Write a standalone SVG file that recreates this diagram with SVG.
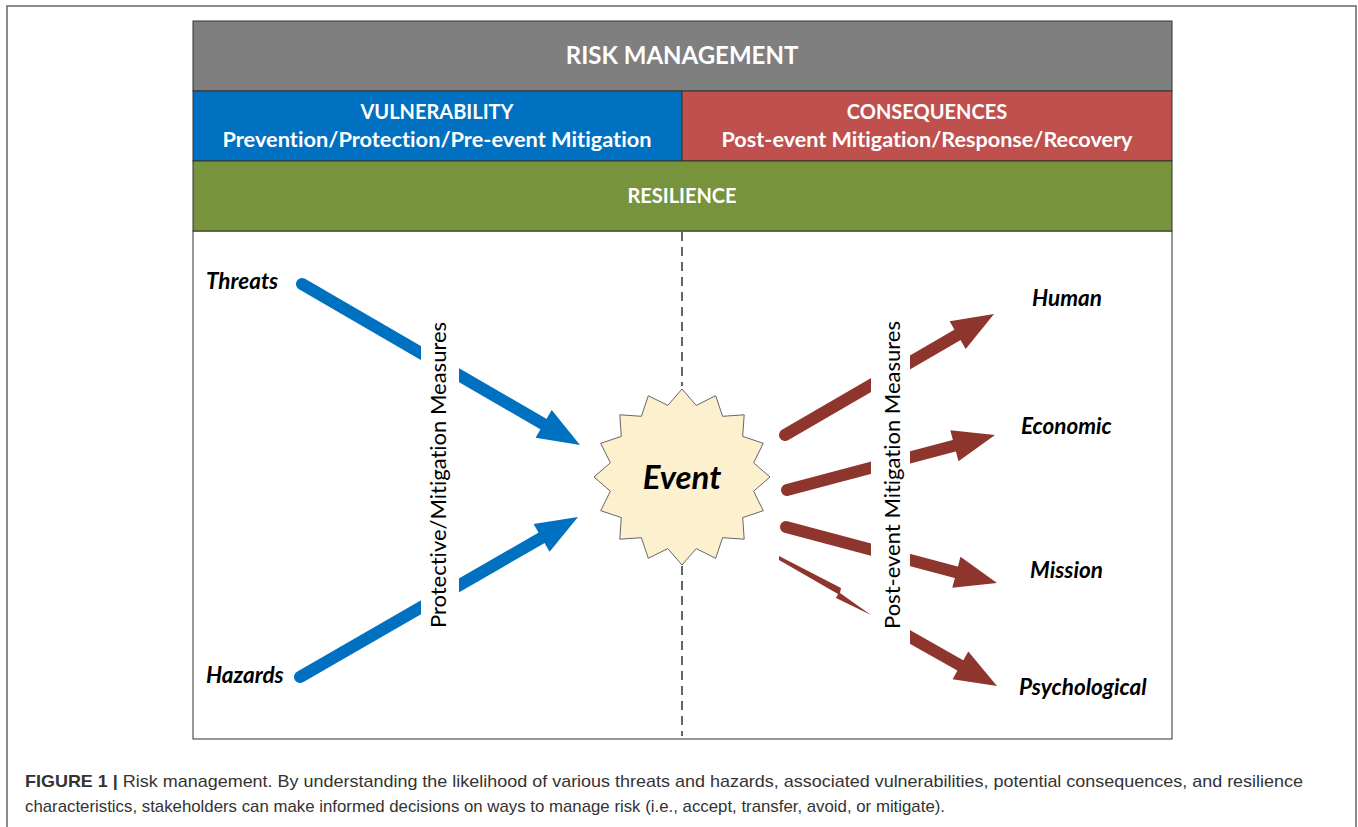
<svg xmlns="http://www.w3.org/2000/svg" width="1358" height="827" viewBox="0 0 1358 827">
<style>
text{font-variant-ligatures:none}
.hdr{font-family:Lato,"Open Sans","Liberation Sans",sans-serif;font-weight:bold;fill:#fff;text-anchor:middle}
.lbl{font-family:Lato,"Open Sans","Liberation Sans",sans-serif;font-weight:bold;font-style:italic;fill:#000;font-size:22.5px}
.vt{font-family:Lato,"Open Sans","Liberation Sans",sans-serif;fill:#000;font-size:22px;text-anchor:middle}
.cap{font-family:"Liberation Sans",Arial,sans-serif;fill:#333;font-size:17px}
.band{stroke:#333;stroke-width:1}
.blue{stroke:#0070C0;stroke-width:12;fill:none}
.red{stroke:#8E352E;stroke-width:12;fill:none}
</style>
<rect x="0" y="0" width="1358" height="827" fill="#fff"/>
<rect x="7" y="6" width="1349" height="830" fill="#fff" stroke="#666" stroke-width="1.5"/>
<g id="frame">
<rect x="193" y="231" width="979" height="508" fill="#fff" stroke="#333" stroke-width="1"/>
</g>
<g id="risk-management">
<rect class="band" x="193" y="21" width="979" height="70" fill="#7F7F7F"/>
<text class="hdr" x="682" y="64" font-size="24">RISK MANAGEMENT</text>
</g>
<g id="vulnerability">
<rect class="band" x="193" y="91" width="489" height="70" fill="#0070C0"/>
<text class="hdr" x="437" y="119" font-size="20">VULNERABILITY</text>
<text class="hdr" x="437" y="147" font-size="20" textLength="429" lengthAdjust="spacingAndGlyphs">Prevention/Protection/Pre-event Mitigation</text>
</g>
<g id="consequences">
<rect class="band" x="682" y="91" width="490" height="70" fill="#C0504D"/>
<text class="hdr" x="927" y="119" font-size="20">CONSEQUENCES</text>
<text class="hdr" x="927" y="147" font-size="20" textLength="411" lengthAdjust="spacingAndGlyphs">Post-event Mitigation/Response/Recovery</text>
</g>
<g id="resilience">
<rect class="band" x="193" y="161" width="979" height="70" fill="#77933C"/>
<text class="hdr" x="682" y="203" font-size="20">RESILIENCE</text>
</g>
<g id="connectors">
<line x1="682" y1="232" x2="682" y2="386" stroke="#333" stroke-width="1.5" stroke-dasharray="9,6"/>
<line x1="682" y1="566" x2="682" y2="736" stroke="#333" stroke-width="1.5" stroke-dasharray="9,6"/>
<line class="blue" x1="302" y1="284" x2="545" y2="425" stroke-linecap="round"/>
<polygon fill="#0070C0" points="580,445 535.6,437.8 551.7,410.1"/>
<line class="blue" x1="300" y1="677" x2="543" y2="537" stroke-linecap="round"/>
<polygon fill="#0070C0" points="578,517 549.6,551.8 533.6,524.1"/>
<line class="red" x1="785" y1="435" x2="959" y2="334" stroke-linecap="round"/>
<polygon fill="#8E352E" points="994,314 965.7,348.9 949.6,321.2"/>
<line class="red" x1="787" y1="490" x2="956" y2="445.3" stroke-linecap="round"/>
<polygon fill="#8E352E" points="995,435 958.5,461.2 950.3,430.3"/>
<line class="red" x1="786" y1="527" x2="958" y2="572.7" stroke-linecap="round"/>
<polygon fill="#8E352E" points="997,583 952.3,587.7 960.5,556.8"/>
<polygon fill="#8E352E" points="779,556 841,588 840,593 871,615 836,598 838,594 779,560"/>
<line class="red" x1="895" y1="628.5" x2="962" y2="666.4"/>
<polygon fill="#8E352E" points="997,686 952.6,679.3 968.3,651.5"/>
</g>
<g id="protective-label">
<rect x="421" y="300" width="38" height="350" fill="#fff"/>
<text class="vt" transform="translate(446,475) rotate(-90)">Protective/Mitigation Measures</text>
</g>
<g id="post-event-label">
<rect x="871" y="300" width="39" height="350" fill="#fff"/>
<text class="vt" transform="translate(900,475) rotate(-90)">Post-event Mitigation Measures</text>
</g>
<g id="event">
<polygon fill="#FCF0CF" stroke="#666" stroke-width="1" points="682,389 696.2,405.4 715.7,395.7 722.6,416.3 744.2,414.8 742.7,436.4 763.3,443.3 753.6,462.8 770,477 753.6,491.2 763.3,510.7 742.7,517.6 744.2,539.2 722.6,537.7 715.7,558.3 696.2,548.6 682,565 667.8,548.6 648.3,558.3 641.4,537.7 619.8,539.2 621.3,517.6 600.7,510.7 610.4,491.2 594,477 610.4,462.8 600.7,443.3 621.3,436.4 619.8,414.8 641.4,416.3 648.3,395.7 667.8,405.4"/>
<text x="682" y="489" text-anchor="middle" font-family="Lato,'Open Sans','Liberation Sans',sans-serif" font-weight="bold" font-style="italic" font-size="33">Event</text>
</g>
<g id="threats"><text class="lbl" x="206" y="289">Threats</text></g>
<g id="hazards"><text class="lbl" x="206" y="683">Hazards</text></g>
<g id="human"><text class="lbl" x="1032" y="306">Human</text></g>
<g id="economic"><text class="lbl" x="1021" y="434">Economic</text></g>
<g id="mission"><text class="lbl" x="1030" y="578">Mission</text></g>
<g id="psychological"><text class="lbl" x="1019" y="695">Psychological</text></g>
<g id="caption">
<text class="cap" x="25" y="787" textLength="1278" lengthAdjust="spacingAndGlyphs"><tspan font-weight="bold">FIGURE 1 |</tspan> Risk management. By understanding the likelihood of various threats and hazards, associated vulnerabilities, potential consequences, and resilience</text>
<text class="cap" x="25" y="812" textLength="920" lengthAdjust="spacingAndGlyphs">characteristics, stakeholders can make informed decisions on ways to manage risk (i.e., accept, transfer, avoid, or mitigate).</text>
</g>
</svg>
